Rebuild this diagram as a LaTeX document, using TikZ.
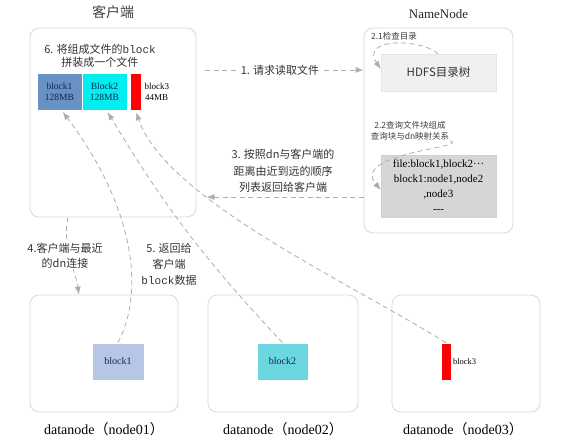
\documentclass[tikz,border=0pt]{standalone}
\usepackage{fontspec}
\setmainfont{Liberation Serif}
\setmonofont{Liberation Mono}
\newfontfamily\cjk{Noto Sans CJK SC}
\usetikzlibrary{positioning, arrows.meta}

\definecolor{steel}{RGB}{104,146,196}
\definecolor{aqua}{RGB}{0,238,240}
\definecolor{paleblue}{RGB}{182,198,228}
\definecolor{teal2}{RGB}{108,214,224}
\definecolor{navy}{RGB}{20,36,80}

\begin{document}
\begin{tikzpicture}[
    x=1pt, y=-1pt,
    every node/.style={align=center, inner sep=1pt},
    panel/.style={draw=black!15, line width=0.8pt, rounded corners=9pt, inner sep=0pt},
    blk/.style={draw=white, line width=0.6pt, minimum height=37pt, inner sep=0pt, text=navy},
    arrow/.style={-{Latex[length=8pt,width=6pt]}, draw=black!32, line width=0.8pt, dash pattern=on 5pt off 3.5pt},
    cjklabel/.style={font=\cjk\fontsize{11}{16}\selectfont, text=black!80},
    smalllabel/.style={font=\cjk\fontsize{8.5}{11}\selectfont, text=black!75},
    headtext/.style={font=\fontsize{13}{15}\selectfont, text=black!85}
]
    \useasboundingbox [fill=white] (0,0) rectangle (586,437);

    % client and namenode
    \node (client) [panel, minimum width=166pt, minimum height=189pt] at (113,122.5) {};
    \node (clienttitle) [above=8pt of client, text=black!75, font=\cjk\fontsize{14}{16}\selectfont] {客户端};
    \node (namenode) [panel, minimum width=149pt, minimum height=205pt] at (438.5,130.5) {};
    \node (nntitle) [headtext, above=8pt of namenode] {NameNode};
    \node (hdfs) [draw=black!10, fill=black!6, minimum width=115pt, minimum height=37pt, text=black!80, font=\cjk\fontsize{11.5}{13}\selectfont] at (438.5,72.5) {HDFS目录树};
    \node (maptab) [draw=black!18, fill=black!16, minimum width=115pt, minimum height=62pt, font=\fontsize{11}{15}\selectfont] at (438.5,186) {file:block1,block2···\\block1:node1,node2\\,node3\\-{}-{}-};

    % blocks on the client
    \node (cblk1) [blk, fill=steel, minimum width=45pt, font=\fontsize{9.5}{11}\selectfont] at (59.5,91.5) {block1\\128MB};
    \node (cblk2) [blk, fill=aqua, minimum width=45pt, font=\fontsize{9.5}{11}\selectfont] at (104.5,91.5) {Block2\\128MB};
    \node (cblk3) [blk, fill=red, minimum width=11pt] at (135.5,91.5) {};
    \node (cblk3lbl) [right=2pt of cblk3, font=\fontsize{9}{11}\selectfont] {block3\\44MB};

    % datanodes
    \node (dn1) [panel, minimum width=148pt, minimum height=117pt] at (104,353.5) {};
    \node (dn2) [panel, minimum width=150pt, minimum height=117pt] at (283,353.5) {};
    \node (dn3) [panel, minimum width=148pt, minimum height=117pt] at (466,353.5) {};
    \node (dn1lbl) [below=9pt of dn1, font=\fontsize{14}{15}\selectfont] {datanode{\cjk （}node01{\cjk ）}};
    \node (dn2lbl) [below=9pt of dn2, font=\fontsize{14}{15}\selectfont] {datanode{\cjk （}node02{\cjk ）}};
    \node (dn3lbl) [below=9pt of dn3, xshift=-3pt, font=\fontsize{14}{15}\selectfont] {datanode{\cjk （}node03{\cjk ）}};
    \node (dblk1) [blk, fill=paleblue, minimum width=52pt, font=\fontsize{10}{12}\selectfont] at (118,361.5) {block1};
    \node (dblk2) [blk, fill=teal2, minimum width=51pt, font=\fontsize{10}{12}\selectfont] at (282.5,361.5) {block2};
    \node (dblk3) [blk, fill=red, minimum width=10pt] at (446,361.5) {};
    \node (dblk3lbl) [right=0.5pt of dblk3, font=\fontsize{8.5}{10}\selectfont] {block3};

    % connectors
    \draw [arrow, shorten <=9pt] ([yshift=52.5pt]client.east) -- node[cjklabel, fill=white, inner sep=2pt] {1. 请求读取文件} ([yshift=60.5pt]namenode.west);
    \draw [arrow] ([xshift=-0.5pt]hdfs.north) .. controls +(-18,-16) and +(-21,-31) .. ([yshift=3.5pt]hdfs.west);
    \node (q21) [smalllabel] at (394,36) {2.1检查目录};
    \node (q22) [smalllabel] at (410,130.5) {2.2查询文件块组成\\查询块与dn映射关系};
    \draw [arrow] (q22.south east) .. controls +(20,6) and +(-31,-37) .. ([yshift=-4pt]maptab.west);
    \draw [arrow, shorten >=10pt] ([yshift=-66.5pt]namenode.west) -- ([yshift=-74.5pt]client.east);
    \node (q3) [cjklabel, font=\cjk\fontsize{11}{16.5}\selectfont] at (283,171) {3. 按照dn与客户端的\\距离由近到远的顺序\\列表返回给客户端};
    \node (q6) [cjklabel, font=\cjk\fontsize{11}{13}\selectfont] at (100,55.5) {6. 将组成文件的\texttt{block}\\拼装成一个文件};

    \draw [arrow] ([xshift=-45pt]client.south) .. controls +(-6,25) and +(-4,-25) .. ([xshift=-25pt]dn1.north);
    \node (q4) [cjklabel, fill=white, font=\cjk\fontsize{11}{15}\selectfont] at (65,255.5) {4.客户端与最近\\的dn连接};
    \draw [arrow, shorten >=2pt] (dblk1.north) .. controls +(27,-52) and +(73,97) .. ([xshift=2pt]cblk1.south);
    \node (q5) [cjklabel] at (169,264) {5. 返回给\\客户端\\\texttt{block}数据};
    \draw [arrow, shorten >=2pt] (dblk2.north) to[bend left=6] ([xshift=2pt]cblk2.south);
    \draw [arrow, shorten >=2pt] (dblk3.north) .. controls +(-100,-62) and +(30,88) .. (cblk3.south);
\end{tikzpicture}
\end{document}
